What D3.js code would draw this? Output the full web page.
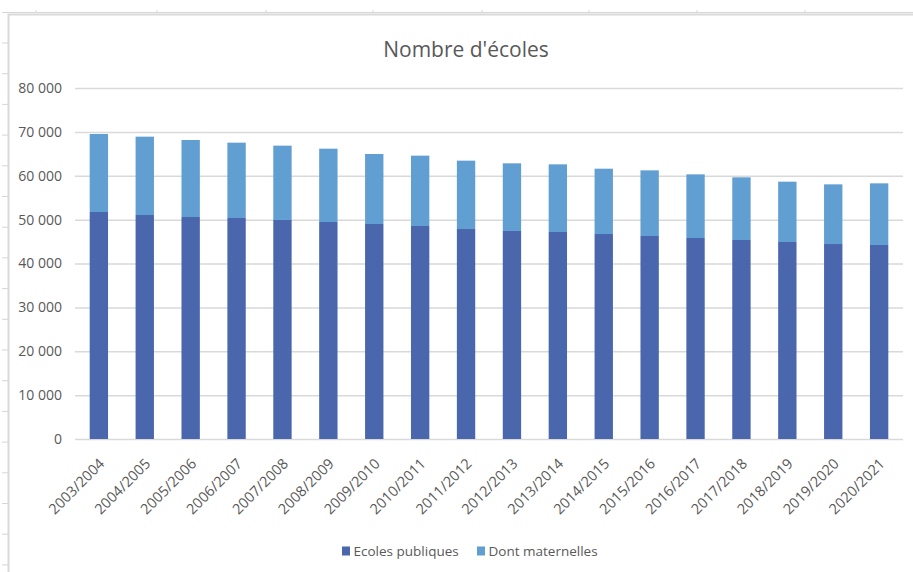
<!DOCTYPE html>
<html>
<head>
<meta charset="utf-8">
<script src="https://cdn.jsdelivr.net/npm/d3@7"></script>
<style>
    body { margin: 0; background: #ffffff; }
    text { font-family: "Open Sans", "Noto Sans", sans-serif; fill: #595959; }
</style>
</head>
<body>
<script>
// School years
const years = ["2003/2004", "2004/2005", "2005/2006", "2006/2007", "2007/2008", "2008/2009",
    "2009/2010", "2010/2011", "2011/2012", "2012/2013", "2013/2014", "2014/2015",
    "2015/2016", "2016/2017", "2017/2018", "2018/2019", "2019/2020", "2020/2021"];
// Ecoles publiques (bottom part of the stack)
const publiques = [51740, 51050, 50600, 50370, 49920, 49460, 49000, 48550, 47860,
    47410, 47180, 46720, 46270, 45810, 45360, 44900, 44440, 44220];
// Dont maternelles (top part of the stack)
const maternelles = [17780, 17860, 17550, 17170, 16940, 16710, 15960, 16030, 15580,
    15420, 15420, 14890, 14960, 14510, 14280, 13750, 13600, 14050];
const yTicks = [0, 10000, 20000, 30000, 40000, 50000, 60000, 70000, 80000];
const seriesNames = ["Ecoles publiques", "Dont maternelles"];
const colors = ["#4a67ad", "#619fd3"];

const width = 913;
const height = 572;
const margin = {top: 88, right: 10, bottom: 133, left: 75};

var svg = d3.select("body").append("svg")
    .attr("width", width)
    .attr("height", height);

// spreadsheet cell lines behind the chart
svg.append("line")
    .attr("x1", 2).attr("x2", width).attr("y1", 12.5).attr("y2", 12.5)
    .attr("stroke", "#d6d6d6").attr("stroke-width", 1);
[36, 157, 266, 373, 482, 589, 697, 805].forEach( x => {
    svg.append("line")
        .attr("x1", x).attr("x2", x).attr("y1", 10).attr("y2", 13)
        .attr("stroke", "#d6d6d6");
});
for (let y = 43; y < height; y += 30.7) {
    svg.append("line")
        .attr("x1", 2).attr("x2", 8).attr("y1", y).attr("y2", y)
        .attr("stroke", "#d6d6d6");
}
// chart frame
svg.append("rect")
    .attr("x", 8.5).attr("y", 14.5)
    .attr("width", width + 20).attr("height", height + 20)
    .attr("fill", "none")
    .attr("stroke", "#d9d9d9")
    .attr("stroke-width", 2);

var xscale = d3.scaleBand()
    .domain(years)
    .range([margin.left, width - margin.right])
    .paddingInner(0.6)
    .paddingOuter(0.32);

var yscale = d3.scaleLinear()
    .domain([0, 80000])
    .range([height - margin.bottom, margin.top]);

const fr = d3.formatLocale({decimal: ",", thousands: " ", grouping: [3], currency: ["", " €"]});
const fmt = fr.format(",d");

// gridlines + y labels
var yAxis = svg.append("g")
    .attr("transform", `translate(${margin.left}, 0)`)
    .call(d3.axisLeft(yscale)
        .tickValues(yTicks)
        .tickSize(-(width - margin.left - margin.right))
        .tickPadding(13)
        .tickFormat(fmt));
yAxis.select(".domain").remove();
yAxis.selectAll(".tick line")
    .attr("stroke", "#d9d9d9")
    .attr("stroke-width", 1.5);
yAxis.selectAll(".tick text")
    .attr("font-size", 14)
    .attr("fill", "#595959");

// stacked bars
const table = years.map( (y, i) => ({year: y, publiques: publiques[i], maternelles: maternelles[i]}) );
const stack = d3.stack().keys(["publiques", "maternelles"])(table);

svg.selectAll("g.layer")
    .data(stack)
    .enter()
    .append("g")
    .attr("class", "layer")
    .attr("fill", (d, i) => colors[i])
    .selectAll("rect")
    .data(d => d)
    .enter()
    .append("rect")
    .attr("x", d => xscale(d.data.year))
    .attr("y", d => yscale(d[1]))
    .attr("width", xscale.bandwidth())
    .attr("height", d => yscale(d[0]) - yscale(d[1]));

// category labels
svg.append("g")
    .selectAll("text")
    .data(years)
    .enter()
    .append("text")
    .attr("transform", d => `translate(${xscale(d) + xscale.bandwidth() / 2 + 3}, 461) rotate(-45)`)
    .attr("text-anchor", "end")
    .attr("dy", "0.35em")
    .attr("font-size", 14.5)
    .text(d => d);

// title
svg.append("text")
    .attr("x", 466)
    .attr("y", 57)
    .attr("text-anchor", "middle")
    .attr("font-size", 21)
    .text("Nombre d'écoles");

// legend
const legendX = [342, 477];
seriesNames.forEach( (name, i) => {
    svg.append("rect")
        .attr("x", legendX[i]).attr("y", 546.5)
        .attr("width", 8).attr("height", 9)
        .attr("fill", colors[i]);
    svg.append("text")
        .attr("x", legendX[i] + 11.5)
        .attr("y", 556)
        .attr("font-size", 13.5)
        .text(name);
});
</script>
</body>
</html>
